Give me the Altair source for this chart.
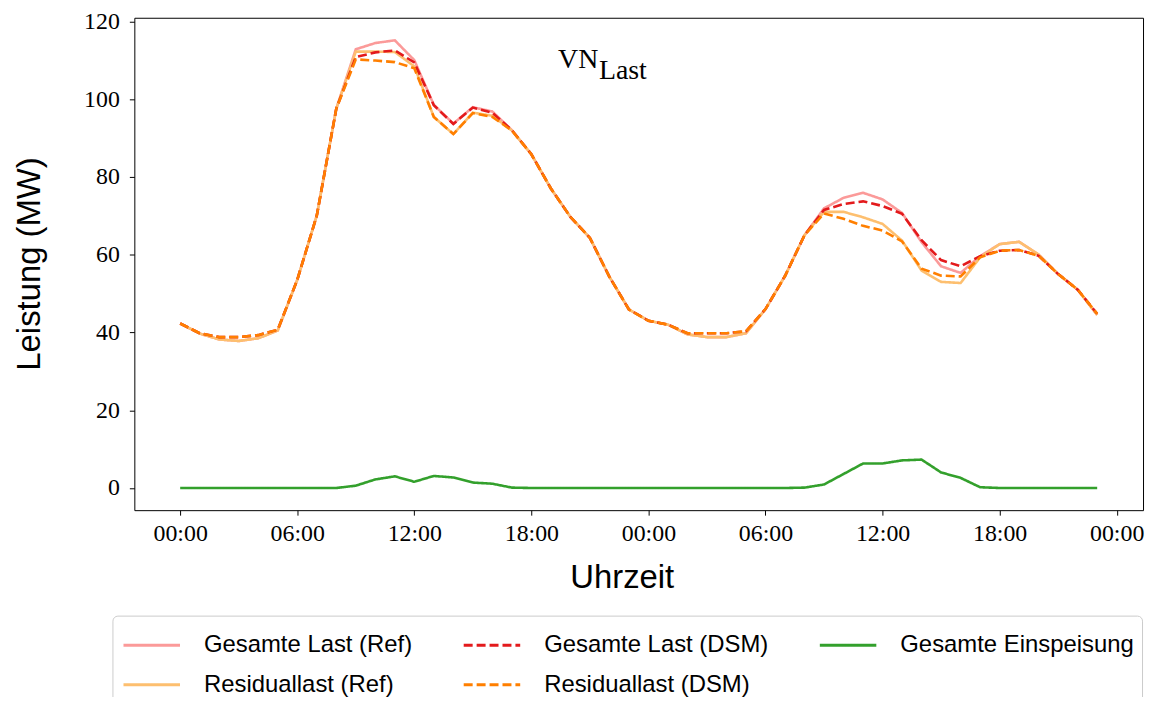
import altair as alt
import pandas as pd

hours = list(range(48))

gesamt_last_ref = [42.3, 39.7, 38.2, 37.8, 38.5, 40.5, 53.5, 70.0, 97.5, 112.8, 114.4, 115.1,
                   110.0, 98.5, 93.7, 97.9, 96.8, 92.0, 85.8, 77.0, 69.7, 64.3, 54.3, 45.9,
                   43.0, 42.0, 39.5, 38.8, 38.8, 39.8, 46.0, 54.5, 65.0, 71.9, 74.6, 75.9,
                   74.2, 70.7, 63.2, 57.0, 55.3, 59.6, 62.7, 63.3, 60.0, 55.0, 51.0, 44.5]

residuallast_ref = [42.3, 39.7, 38.2, 37.8, 38.5, 40.5, 53.5, 70.0, 97.5, 112.2, 112.2, 112.1,
                    108.4, 95.4, 91.0, 96.5, 95.7, 91.9, 85.8, 77.0, 69.7, 64.3, 54.3, 45.9,
                    43.0, 42.0, 39.5, 38.8, 38.8, 39.8, 46.0, 54.5, 65.0, 71.0, 71.0, 69.6,
                    67.9, 63.6, 55.9, 53.0, 52.7, 59.3, 62.7, 63.3, 60.0, 55.0, 51.0, 44.5]

gesamt_last_dsm = [42.3, 39.8, 38.8, 38.8, 39.3, 40.7, 53.5, 70.0, 97.5, 110.8, 112.0, 112.5,
                   109.4, 98.4, 93.6, 97.8, 96.5, 92.0, 85.8, 77.0, 69.7, 64.3, 54.3, 45.9,
                   43.0, 42.0, 39.8, 39.8, 39.8, 40.3, 46.0, 54.5, 65.0, 71.5, 73.0, 73.7,
                   72.5, 70.5, 63.7, 58.6, 57.0, 59.6, 61.0, 61.2, 59.7, 55.0, 51.0, 44.8]

residuallast_dsm = [42.3, 39.8, 38.8, 38.8, 39.3, 40.7, 53.5, 70.0, 97.5, 110.2, 109.9, 109.5,
                    107.9, 95.4, 91.0, 96.4, 95.4, 91.9, 85.8, 77.0, 69.7, 64.3, 54.3, 45.9,
                    43.0, 42.0, 39.8, 39.8, 39.8, 40.3, 46.0, 54.5, 65.0, 70.6, 69.2, 67.4,
                    66.2, 63.4, 56.4, 54.6, 54.4, 59.3, 61.0, 61.2, 59.7, 55.0, 51.0, 44.8]

gesamte_einspeisung = [0.0, 0.0, 0.0, 0.0, 0.0, 0.0, 0.0, 0.0, 0.0, 0.6, 2.2, 3.0,
                       1.6, 3.1, 2.7, 1.4, 1.1, 0.1, 0.0, 0.0, 0.0, 0.0, 0.0, 0.0,
                       0.0, 0.0, 0.0, 0.0, 0.0, 0.0, 0.0, 0.0, 0.1, 0.9, 3.6, 6.3,
                       6.3, 7.1, 7.3, 4.0, 2.6, 0.2, 0.0, 0.0, 0.0, 0.0, 0.0, 0.0]

legend_order = ["Gesamte Last (Ref)", "Residuallast (Ref)", "Gesamte Last (DSM)",
                "Residuallast (DSM)", "Gesamte Einspeisung"]
legend_colors = ["#fb9a99", "#fdbf6f", "#e31a1c", "#ff7f00", "#33a02c"]
legend_dashes = [[1, 0], [1, 0], [9, 4], [9, 4], [1, 0]]

series = {
    "Gesamte Last (Ref)": gesamt_last_ref,
    "Residuallast (Ref)": residuallast_ref,
    "Gesamte Last (DSM)": gesamt_last_dsm,
    "Residuallast (DSM)": residuallast_dsm,
    "Gesamte Einspeisung": gesamte_einspeisung,
}
draw_order = ["Gesamte Last (Ref)", "Residuallast (Ref)", "Gesamte Last (DSM)",
              "Residuallast (DSM)", "Gesamte Einspeisung"]

rows = []
for name, vals in series.items():
    for h, v in zip(hours, vals):
        rows.append({"Stunde": h, "Leistung": v, "Serie": name})
df = pd.DataFrame(rows)

x_ticks = [0, 6, 12, 18, 24, 30, 36, 42, 48]
y_ticks = [0, 20, 40, 60, 80, 100, 120]

legend = alt.Legend(
    title=None, orient="none", legendX=-22, legendY=601, columns=3,
    symbolType="M-1.42,0H1.42", symbolSize=1600, symbolStrokeWidth=3, symbolOffset=10,
    labelFont="Liberation Sans", labelFontSize=24, labelColor="black", labelOffset=31,
    labelLimit=400, columnPadding=45, rowPadding=6, padding=8,
    strokeColor="#cccccc", fillColor="white", cornerRadius=5,
)

color = alt.Color("Serie:N", scale=alt.Scale(domain=legend_order, range=legend_colors), legend=legend)
dash = alt.StrokeDash("Serie:N", scale=alt.Scale(domain=legend_order, range=legend_dashes), legend=legend)

x = alt.X("Stunde:Q",
          scale=alt.Scale(domain=[-2.35, 49.35], nice=False, zero=False),
          axis=alt.Axis(values=x_ticks,
                        labelExpr="(datum.value % 24 < 10 ? '0' : '') + (datum.value % 24) + ':00'",
                        labelPadding=6,
                        title="Uhrzeit", titleX=490, titleY=78, titleAlign="center",
                        titleBaseline="alphabetic"))
y = alt.Y("Leistung:Q",
          scale=alt.Scale(domain=[-5.7, 120.9], nice=False, zero=False),
          axis=alt.Axis(values=y_ticks, labelPadding=10,
                        title="Leistung (MW)", titleX=-105, titleY=247,
                        titleAlign="center", titleBaseline="middle", titleAngle=270))

layers = []
for name in draw_order:
    layers.append(
        alt.Chart(df).transform_filter(alt.datum.Serie == name)
        .mark_line(strokeWidth=2.6)
        .encode(x=x, y=y, color=color, strokeDash=dash)
    )

vn = alt.Chart(pd.DataFrame({"t": ["VN"]})).mark_text(
    font="Liberation Serif", fontSize=28, align="left", baseline="alphabetic", color="black"
).encode(text="t:N", x=alt.value(426), y=alt.value(51))
last = alt.Chart(pd.DataFrame({"t": ["Last"]})).mark_text(
    font="Liberation Serif", fontSize=28, align="left", baseline="alphabetic", color="black"
).encode(text="t:N", x=alt.value(467), y=alt.value(62))

chart = alt.layer(*layers, vn, last).properties(
    width=1014, height=495,
    autosize=alt.AutoSizeParams(type="none"),
    padding={"left": 127, "top": 8, "right": 5, "bottom": 186},
).configure_view(
    stroke="black", strokeWidth=1
).configure_axis(
    grid=False, domain=False, ticks=True, tickSize=5, tickColor="black", tickWidth=1,
    labelFont="Liberation Serif", labelFontSize=24, labelColor="black",
    titleFont="Liberation Sans", titleFontSize=33, titleFontWeight="normal", titleColor="black",
)

chart.save("out.html", embed_options={"renderer": "svg", "actions": False})
